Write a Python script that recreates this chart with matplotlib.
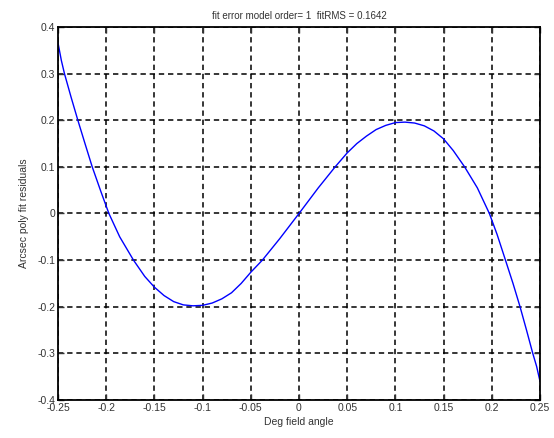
import matplotlib
matplotlib.use("Agg")
import matplotlib.pyplot as plt

# Values
x_vals = [-0.25, -0.2465, -0.2433, -0.2365, -0.2294, -0.222, -0.2145, -0.2055, -0.1972,
          -0.186, -0.1717, -0.16, -0.15, -0.14, -0.13, -0.12, -0.11, -0.10, -0.09,
          -0.08, -0.07, -0.06, -0.05, -0.038, -0.02, 0.0, 0.02, 0.0375, 0.05, 0.06,
          0.07, 0.08, 0.09, 0.10, 0.11, 0.12, 0.13, 0.14, 0.15, 0.16, 0.1718, 0.185,
          0.1975, 0.2055, 0.2137, 0.222, 0.2293, 0.236, 0.2425, 0.2465, 0.25]
y_vals = [0.366, 0.328, 0.30, 0.25, 0.20, 0.15, 0.10, 0.047, 0.0,
          -0.05, -0.10, -0.135, -0.158, -0.176, -0.189, -0.196, -0.198, -0.197, -0.192,
          -0.183, -0.170, -0.150, -0.126, -0.10, -0.054, 0.0, 0.055, 0.10, 0.130, 0.150,
          0.166, 0.180, 0.189, 0.195, 0.196, 0.194, 0.188, 0.177, 0.160, 0.135, 0.10, 0.055,
          0.0, -0.045, -0.097, -0.15, -0.20, -0.25, -0.30, -0.328, -0.36]

x_ticks = [-0.25, -0.2, -0.15, -0.1, -0.05, 0, 0.05, 0.1, 0.15, 0.2, 0.25]
x_ticklabels = ["-0.25", "-0.2", "-0.15", "-0.1", "-0.05", "0", "0.05", "0.1", "0.15", "0.2", "0.25"]
y_ticks = [-0.4, -0.3, -0.2, -0.1, 0, 0.1, 0.2, 0.3, 0.4]
y_ticklabels = ["-0.4", "-0.3", "-0.2", "-0.1", "0", "0.1", "0.2", "0.3", "0.4"]

title = "fit error model order= 1  fitRMS = 0.1642"
xlabel = "Deg field angle"
ylabel = "Arcsec poly fit residuals"

plt.rcParams['font.family'] = ['Liberation Sans', 'DejaVu Sans']

fig = plt.figure(figsize=(5.54, 4.38), dpi=100)
ax = fig.add_axes([58/554, 1 - 400/438, (540 - 58)/554, (400 - 27)/438])

ax.plot(x_vals, y_vals, color='#0000ff', linewidth=1.0)

ax.set_xlim(-0.25, 0.25)
ax.set_ylim(-0.4, 0.4)
ax.set_xticks(x_ticks)
ax.set_xticklabels(x_ticklabels)
ax.set_yticks(y_ticks)
ax.set_yticklabels(y_ticklabels)
ax.tick_params(direction='in', length=4, width=1, labelsize=7.5, colors='#333333',
               top=True, right=True, pad=2)
ax.grid(True, color='black', linestyle=(0, (3.5, 2.5)), linewidth=1.1)
for s in ax.spines.values():
    s.set_linewidth(1.3)
    s.set_color('black')

ax.set_title(title, fontsize=7, pad=6, color='#333333')
ax.set_xlabel(xlabel, fontsize=7.5, labelpad=3, color='#333333')
ax.set_ylabel(ylabel, fontsize=7.5, labelpad=6, color='#333333')

fig.savefig("out.png", dpi=100)
